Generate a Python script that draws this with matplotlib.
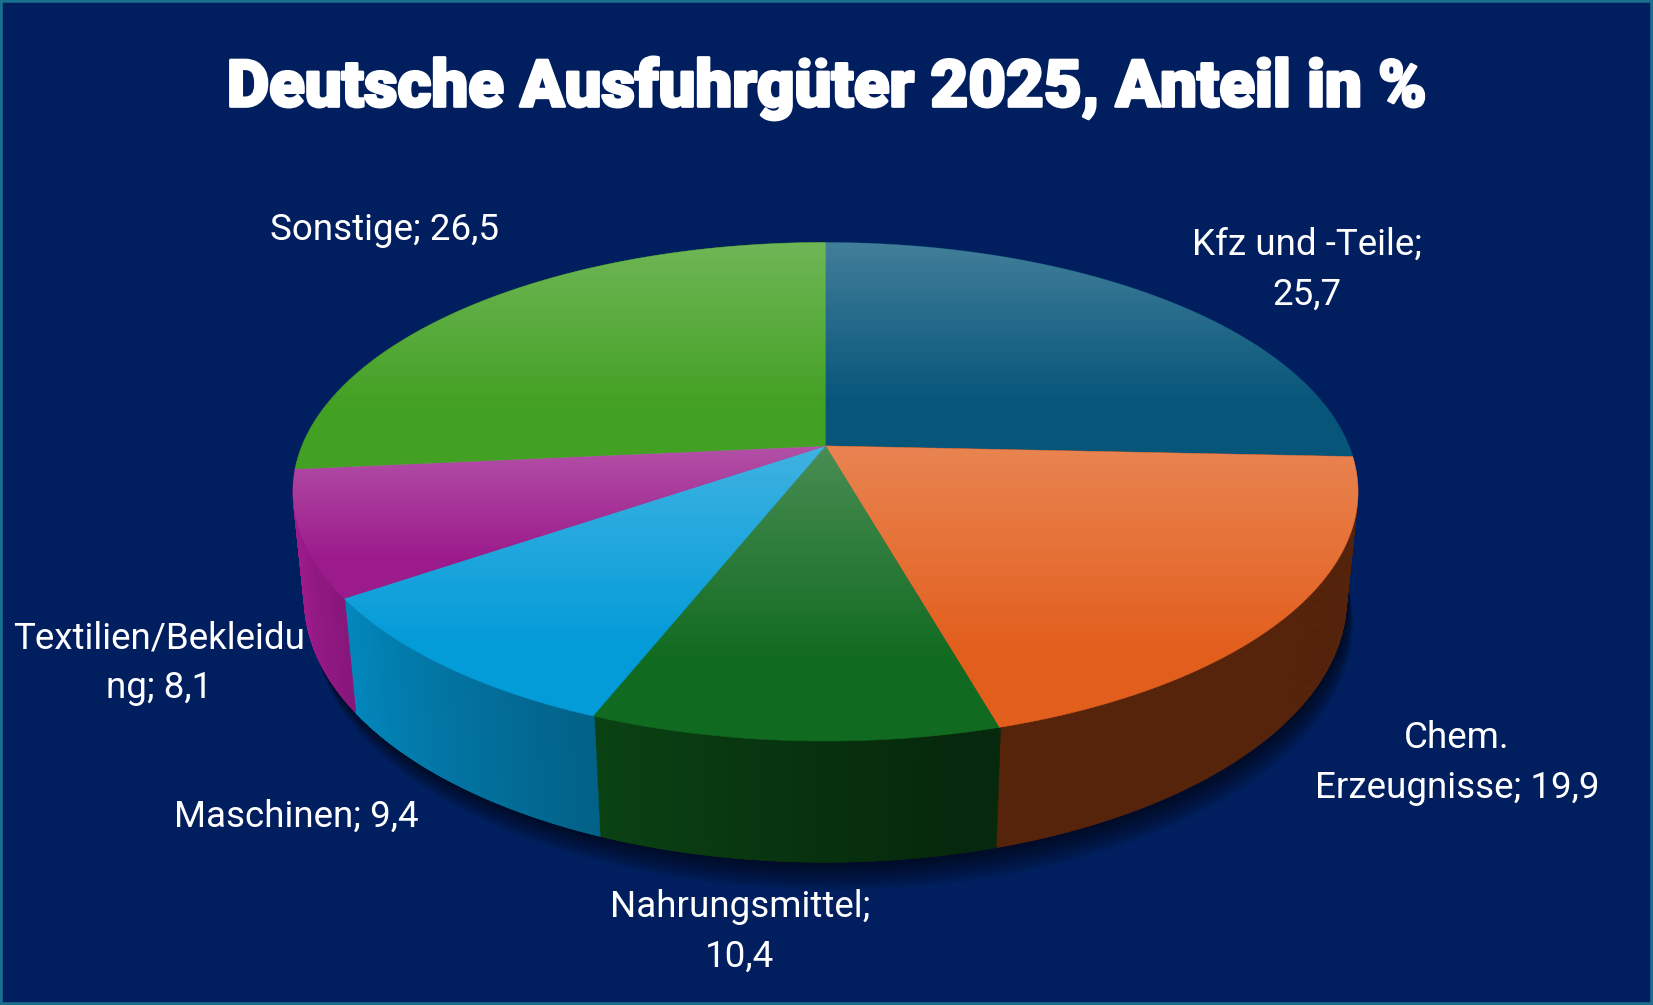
import numpy as np
import matplotlib
matplotlib.use('Agg')
import matplotlib.pyplot as plt
import matplotlib.patheffects as pe
from matplotlib.patches import Polygon, Rectangle
from matplotlib.colors import to_rgb

# data
categories = ['Kfz und -Teile', 'Chem. Erzeugnisse', 'Nahrungsmittel', 'Maschinen',
              'Textilien/Bekleidung', 'Sonstige']
values = [25.7, 19.9, 10.4, 9.4, 8.1, 26.5]
colors = ['#07567A', '#E25E1C', '#106A1F', '#039BD8', '#9C1B8C', '#42A022']
# where excel wrapped the label text
wrap_at = ['Kfz und -Teile; ', 'Chem. ', 'Nahrungsmittel; ', None, 'Textilien/Bekleidu', None]
label_pos = [(1240, 256), (1382, 724), (702, 884), (281, 775), (151, 629), (365, 218)]

BG = '#011F5E'
W, H = 1568, 953.4

# perspective view of the pie
L, CE, SE = 4.853, 0.892, 0.4524
FX, FY = 2410, 2451
CX, CY = 783, 423
T = 0.227


def proj(th, z=0.0, r=1.0):
    x = r * np.cos(th)
    y = r * np.sin(th)
    zc = L + y * CE - z * SE
    yc = y * SE + z * CE
    return CX + FX * x / zc, CY - FY * yc / zc


def shade(c, f):
    return tuple(np.clip(np.array(to_rgb(c)) * f, 0, 1))


fig = plt.figure(figsize=(16.53, 10.05), dpi=100, facecolor=BG)
ax = fig.add_axes([0, 0, 1, 1])
ax.set_xlim(0, W)
ax.set_ylim(H, 0)
ax.axis('off')
ax.set_facecolor(BG)

cum = np.cumsum([0] + values)
total = cum[-1]
a_start = 90 - 360 * cum[:-1] / total
a_end = 90 - 360 * cum[1:] / total

# soft shadow under the pie
full = np.radians(np.linspace(0, 360, 400))
for k in range(8):
    bx, by = proj(full, -T - 0.005 * k)
    ax.add_patch(Polygon(np.c_[bx + 2 + k * 0.8, by + 3 + k * 0.8], closed=True,
                         fc='black', ec='none', alpha=0.09, zorder=1))

# side walls
for i in range(len(values)):
    deg = np.linspace(a_end[i], a_start[i], 240) % 360
    deg = np.sort(deg[(deg > 193.4) & (deg < 346.6)])
    if len(deg) < 2:
        continue
    for j in range(len(deg) - 1):
        t0, t1 = np.radians(deg[j]), np.radians(deg[j + 1] + 0.15)
        x0, y0 = proj(t0)
        x1, y1 = proj(t1)
        x2, y2 = proj(t1, -T)
        x3, y3 = proj(t0, -T)
        f = np.clip(0.95 - (deg[j] - 205) * 0.0075, 0.38, 1.0)
        col = shade(colors[i], f)
        ax.add_patch(Polygon([[x0, y0], [x1, y1], [x2, y2], [x3, y3]], closed=True,
                             fc=col, ec=col, lw=0.3, zorder=2))

# top faces with a light gradient per slice
grad = np.linspace(0, 1, 256)
for i in range(len(values)):
    th = np.radians(np.linspace(a_start[i], a_end[i], 200))
    px, py = proj(th)
    pts = np.r_[[[CX, CY]], np.c_[px, py]]
    poly = Polygon(pts, closed=True, fc=colors[i], ec=colors[i], lw=0.4, zorder=3)
    ax.add_patch(poly)
    y0, y1 = pts[:, 1].min(), pts[:, 1].max()
    x0, x1 = pts[:, 0].min(), pts[:, 0].max()
    alpha = 0.24 * np.clip(1 - grad / 0.75, 0, 1)
    img = np.ones((256, 1, 4))
    img[:, 0, 3] = alpha
    im = ax.imshow(img, extent=[x0, x1, y1, y0], aspect='auto', zorder=4,
                   interpolation='bilinear')
    im.set_clip_path(poly)

ax.set_xlim(0, W)
ax.set_ylim(H, 0)

# labels
for i in range(len(values)):
    txt = categories[i] + '; ' + ('%.1f' % values[i]).replace('.', ',')
    if wrap_at[i]:
        n = len(wrap_at[i])
        txt = txt[:n].rstrip() + '\n' + txt[n:]
    ax.text(label_pos[i][0], label_pos[i][1], txt, color='white', fontsize=26.5,
            family=['Roboto', 'DejaVu Sans'], ha='center', va='center',
            linespacing=1.5, zorder=6)

ax.text(W / 2, 101, 'Deutsche Ausfuhrgüter 2025, Anteil in %', color='white',
        fontsize=47, fontweight=900, family=['Roboto', 'DejaVu Sans'],
        ha='center', va='baseline', zorder=6,
        path_effects=[pe.withStroke(linewidth=2, foreground='white')])

fig.patches.append(Rectangle((0, 0), 1, 1, transform=fig.transFigure, fill=False,
                             ec='#1A6F8F', lw=4, zorder=10))

fig.savefig('out.png', dpi=100, facecolor=BG)
